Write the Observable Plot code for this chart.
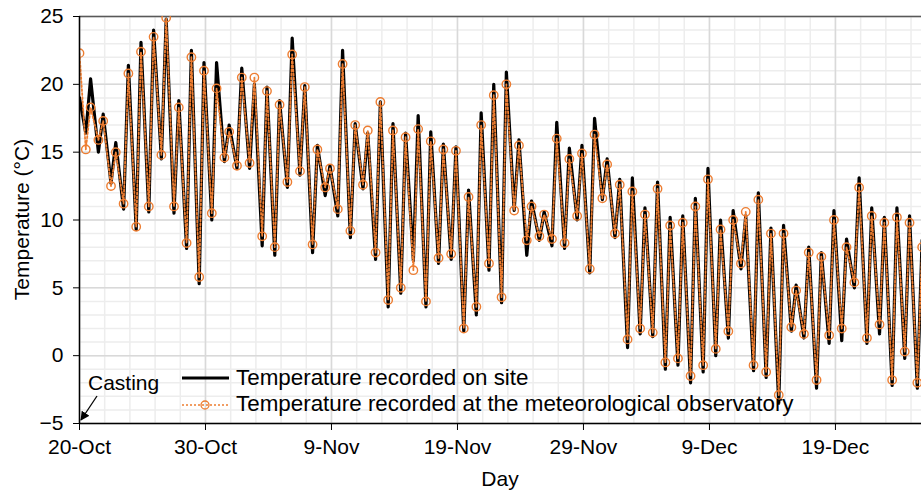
<!DOCTYPE html>
<html><head><meta charset="utf-8">
<script src="https://cdn.jsdelivr.net/npm/d3@7"></script>
<script src="https://cdn.jsdelivr.net/npm/@observablehq/plot@0.6"></script>
<style>html,body{margin:0;padding:0;background:#fff;overflow:hidden;} svg{display:block;}</style>
</head><body><div id="chart"></div>
<script>
// ---- data ----
const year = 2019;
const xTickLabels = ["20-Oct","30-Oct","9-Nov","19-Nov","29-Nov","9-Dec","19-Dec"];
const yTicks = [-5, 0, 5, 10, 15, 20, 25];
const seriesNames = ["Temperature recorded on site", "Temperature recorded at the meteorological observatory"];
const annotationText = "Casting";

// first reading at casting (day 0)
const siteStart = 19.0;
const obsStart = 22.3;
// daily minimum / maximum, day 0 = 20-Oct
const siteMin = [16.4, 15.0, 12.7, 10.8, 9.3, 10.6, 14.5, 10.5, 7.9, 5.3,
  10.0, 14.3, 13.8, 13.8, 8.1, 7.4, 12.4, 13.3, 7.6, 11.8,
  10.3, 8.7, 12.3, 7.1, 3.6, 4.6, 7.0, 3.6, 6.8, 7.1,
  1.8, 3.0, 6.3, 3.9, 10.7, 7.4, 8.5, 8.1, 7.9, 10.0,
  6.1, 11.5, 8.7, 0.6, 1.6, 1.4, -1.0, -0.7, -2.0, -1.2,
  0.0, 1.3, 6.4, -1.1, -1.6, -3.5, 1.8, 1.3, -2.4, 0.9,
  1.1, 5.0, 0.9, 1.6, -2.2, -0.2, -2.4];
const siteMax = [20.4, 17.8, 15.7, 21.4, 23.1, 24.0, 24.8, 18.8, 22.5, 21.6,
  21.6, 17.0, 21.2, 20.0, 19.8, 18.8, 23.4, 19.9, 15.5, 14.0,
  22.5, 17.1, 16.4, 18.7, 17.1, 16.4, 17.7, 16.5, 15.6, 15.4,
  12.2, 17.9, 20.0, 20.9, 15.9, 11.4, 10.6, 17.2, 15.3, 15.5,
  17.5, 14.5, 13.0, 13.1, 10.9, 12.8, 10.2, 10.3, 11.6, 13.8,
  10.0, 10.7, 10.3, 12.0, 9.4, 9.6, 5.2, 8.0, 7.6, 10.7,
  8.6, 13.1, 10.9, 10.2, 10.9, 10.3, 8.5];
const obsMin = [15.2, 15.9, 12.5, 11.2, 9.5, 11.0, 14.8, 11.0, 8.3, 5.8,
  10.5, 14.6, 14.0, 14.2, 8.8, 8.0, 12.8, 13.6, 8.2, 12.4,
  10.8, 9.2, 12.6, 7.6, 4.1, 5.0, 6.3, 4.0, 7.2, 7.5,
  2.0, 3.6, 6.8, 4.3, 10.7, 8.5, 8.8, 8.6, 8.3, 10.3,
  6.4, 11.6, 9.0, 1.2, 2.0, 1.7, -0.5, -0.2, -1.5, -0.7,
  0.5, 1.8, 6.8, -0.7, -1.2, -2.9, 2.1, 1.6, -1.8, 1.5,
  2.0, 5.4, 1.3, 2.3, -1.8, 0.3, -2.0];
const obsMax = [18.3, 17.3, 15.0, 20.8, 22.4, 23.5, 24.9, 18.3, 22.0, 21.0,
  19.7, 16.5, 20.5, 20.5, 19.5, 18.5, 22.2, 19.8, 15.2, 13.8,
  21.5, 17.0, 16.6, 18.7, 16.6, 16.1, 16.7, 15.8, 15.2, 15.1,
  11.7, 17.0, 19.2, 20.0, 15.5, 11.0, 10.4, 16.0, 14.5, 14.9,
  16.3, 14.1, 12.6, 12.1, 10.4, 12.3, 9.6, 9.8, 11.0, 13.0,
  9.3, 10.0, 10.6, 11.5, 9.0, 9.0, 4.8, 7.6, 7.3, 10.0,
  8.0, 12.4, 10.3, 9.8, 10.2, 9.8, 8.0];

// ---- build tables ----
const DAY = 864e5;
const parse = d3.utcParse("%d-%b-%Y");
const xTickDates = xTickLabels.map(s => parse(s + "-" + year));
const x0 = xTickDates[0];
const at = d => new Date(+x0 + d * DAY);
const minHour = 0.5, maxHour = 0.88;   // time of day of the extremes
function build(start, mins, maxs) {
  const rows = [{t: at(0), v: start}];
  mins.forEach((m, i) => {
    rows.push({t: at(i + minHour), v: m});
    rows.push({t: at(i + maxHour), v: maxs[i]});
  });
  return rows;
}
const site = build(siteStart, siteMin, siteMax);
const obs = build(obsStart, obsMin, obsMax);

const xEnd = at(66.83);
const minorX = d3.range(0, 68, 2).map(at).filter(d => d <= xEnd);
const majorX = xTickDates;
const minorY = d3.range(-5, 26, 1);
const ORANGE = "#ED7D31";
const FONT = "'Liberation Sans', Arial, sans-serif";

const plot = Plot.plot({
  width: 921, height: 490,
  marginLeft: 79, marginRight: 0, marginTop: 16, marginBottom: 67,
  style: {fontFamily: FONT, fontSize: "21px", color: "#000", background: "#fff", overflow: "hidden"},
  x: {type: "utc", domain: [x0, xEnd]},
  y: {domain: [-5, 25]},
  marks: [
    Plot.ruleY(minorY, {stroke: "#ededed", strokeWidth: 1.5}),
    Plot.ruleX(minorX, {stroke: "#ededed", strokeWidth: 1.5}),
    Plot.ruleY(yTicks, {stroke: "#d9d9d9", strokeWidth: 1.5}),
    Plot.ruleX(majorX, {stroke: "#d9d9d9", strokeWidth: 1.5}),
    Plot.ruleY([25], {stroke: "#595959", strokeWidth: 1.5}),
    Plot.line(site, {x: "t", y: "v", stroke: "#000", strokeWidth: 3.2, strokeLinejoin: "round", clip: true}),
    Plot.line(obs, {x: "t", y: "v", stroke: ORANGE, strokeWidth: 1.8, strokeDasharray: "2,2", clip: true}),
    Plot.dot(obs, {x: "t", y: "v", r: 4.2, stroke: ORANGE, strokeWidth: 1.4, fill: "none", clip: true}),
    Plot.ruleY([-5], {stroke: "#000", strokeWidth: 1.5}),
    Plot.ruleX([x0], {stroke: "#000", strokeWidth: 1.5}),
    Plot.axisX(xTickDates, {tickSize: 7, tickPadding: 9, tickFormat: (d, i) => xTickLabels[i], label: null, fontSize: 21}),
    Plot.axisY(yTicks, {tickSize: 6, tickPadding: 10, label: null, fontSize: 21})
  ]
});
document.getElementById("chart").appendChild(plot);

// ---- titles, legend, annotation ----
const svg = d3.select(plot);
const sx = plot.scale("x"), sy = plot.scale("y");
const ox = sx.apply(x0), oy = sy.apply(-5);

svg.append("text").attr("x", (ox + 921) / 2).attr("y", 486).attr("text-anchor", "middle")
  .attr("font-family", FONT).attr("font-size", 21).text("Day");
svg.append("text").attr("transform", `translate(29,${(sy.apply(25) + oy) / 2}) rotate(-90)`)
  .attr("text-anchor", "middle").attr("font-family", FONT).attr("font-size", 21).text("Temperature (°C)");

// Casting annotation
svg.append("defs").append("marker").attr("id", "ah").attr("viewBox", "0 0 10 10")
  .attr("refX", 9).attr("refY", 5).attr("markerWidth", 7).attr("markerHeight", 7)
  .attr("orient", "auto").append("path").attr("d", "M0,0L10,5L0,10z").attr("fill", "#000");
svg.append("text").attr("x", ox + 9).attr("y", oy - 33).attr("text-anchor", "start")
  .attr("font-family", FONT).attr("font-size", 21).text(annotationText);
svg.append("line").attr("x1", ox + 18).attr("y1", oy - 27).attr("x2", ox + 2).attr("y2", oy - 3)
  .attr("stroke", "#000").attr("stroke-width", 1.3).attr("marker-end", "url(#ah)");

// legend
const lg = svg.append("g").attr("font-family", FONT).attr("font-size", 22.4).attr("text-anchor", "start");
lg.append("line").attr("x1", 182).attr("x2", 229).attr("y1", 378).attr("y2", 378).attr("stroke", "#000").attr("stroke-width", 3);
lg.append("text").attr("x", 236).attr("y", 385).text(seriesNames[0]);
lg.append("line").attr("x1", 182).attr("x2", 229).attr("y1", 405).attr("y2", 405).attr("stroke", ORANGE).attr("stroke-width", 1.6).attr("stroke-dasharray", "2,2");
lg.append("circle").attr("cx", 205).attr("cy", 405).attr("r", 4).attr("fill", "none").attr("stroke", ORANGE).attr("stroke-width", 1.3);
lg.append("text").attr("x", 236).attr("y", 411).text(seriesNames[1]);
</script>
</body></html>
